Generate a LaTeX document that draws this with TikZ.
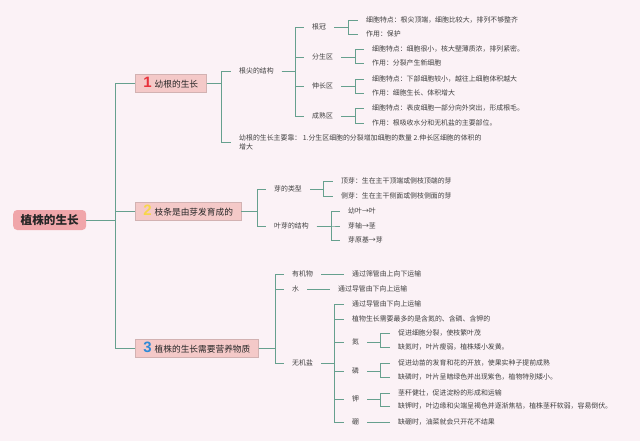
\documentclass[tikz,border=0pt]{standalone}
\usepackage{fontspec}
\setmainfont{Noto Sans CJK SC}
\newfontfamily\numfont{Liberation Sans}
\definecolor{bg}{HTML}{FBF2F6}
\definecolor{ln}{HTML}{66A08E}
\definecolor{rootfill}{HTML}{F0A6AA}
\definecolor{boxfill}{HTML}{F4C9C8}
\definecolor{boxdraw}{HTML}{D2B2B2}
\definecolor{txt}{HTML}{404040}
\definecolor{numred}{HTML}{E8323C}
\definecolor{numyel}{HTML}{F7D64A}
\definecolor{numblue}{HTML}{2E8AD6}
\newcommand\bnum[2]{{\numfont\bfseries\fontsize{15}{15}\selectfont\color{#1}#2}\hspace{3pt}}
\newcommand\lk[3]{\draw[conn] (#1.east) -- (#1.east -| #2,0) |- (#3.west);}
\newcommand\straightlk[2]{\draw[conn] (#1.east) -- (#2.west);}
\tikzset{
 conn/.style={draw=ln, line width=0.95pt},
 leaf/.style={anchor=west, inner xsep=8pt, inner ysep=1pt, font=\fontsize{6.9}{9}\selectfont, text=txt, align=left},
 branch/.style={anchor=west, draw=boxdraw, fill=boxfill, line width=0.7pt, inner xsep=8pt, minimum height=18pt, font=\fontsize{8.7}{10}\selectfont, text=black!85},
 rootbox/.style={anchor=west, fill=rootfill, rounded corners=4pt, minimum height=20pt, inner xsep=7.5pt, font=\fontsize{11.6}{13}\selectfont\bfseries, text=black!85},
}
\begin{document}
\begin{tikzpicture}[x=1pt,y=-1pt]
\fill[bg] (0,0) rectangle (640,441);
\useasboundingbox (0,0) rectangle (640,441);
% root and branches
\node[rootbox] (root) at (13,220) {植株的生长};
\node[branch] (b1) at (135,83) {\bnum{numred}{1}幼根的生长};
\node[branch] (b2) at (135,211) {\bnum{numyel}{2}枝条是由芽发育成的};
\node[branch] (b3) at (135,348) {\bnum{numblue}{3}植株的生长需要营养物质};
\lk{root}{115}{b1}
\lk{root}{115}{b2}
\lk{root}{115}{b3}
% branch 1
\node[leaf] (rt) at (231,71) {根尖的结构};
\node[leaf] (zy) at (231,142) {幼根的生长主要靠： 1.分生区细胞的分裂增加细胞的数量 2.伸长区细胞的体积的\\增大};
\lk{b1}{221}{rt}
\lk{b1}{221}{zy}
\node[leaf] (gg) at (304,27) {根冠};
\node[leaf] (fs) at (304,57) {分生区};
\node[leaf] (sc) at (304,86) {伸长区};
\node[leaf] (cs) at (304,116) {成熟区};
\lk{rt}{295}{gg}
\lk{rt}{295}{fs}
\lk{rt}{295}{sc}
\lk{rt}{295}{cs}
\node[leaf] (gg1) at (358,20) {细胞特点：根尖顶端，细胞比较大，排列不够整齐};
\node[leaf] (gg2) at (358,34) {作用：保护};
\lk{gg}{348}{gg1}
\lk{gg}{348}{gg2}
\node[leaf] (fs1) at (364,49) {细胞特点：细胞很小，核大壁薄质浓，排列紧密。};
\node[leaf] (fs2) at (364,63) {作用：分裂产生新细胞};
\lk{fs}{355}{fs1}
\lk{fs}{355}{fs2}
\node[leaf] (sc1) at (364,79) {细胞特点：下部细胞较小，越往上细胞体积越大};
\node[leaf] (sc2) at (364,93) {作用：细胞生长、体积增大};
\lk{sc}{355}{sc1}
\lk{sc}{355}{sc2}
\node[leaf] (cs1) at (364,108) {细胞特点：表皮细胞一部分向外突出，形成根毛。};
\node[leaf] (cs2) at (364,123) {作用：根吸收水分和无机盐的主要部位。};
\lk{cs}{355}{cs1}
\lk{cs}{355}{cs2}
% branch 2
\node[leaf] (ylx) at (266,189) {芽的类型};
\node[leaf] (yjg) at (266,226) {叶芽的结构};
\lk{b2}{257}{ylx}
\lk{b2}{257}{yjg}
\node[leaf] (dy) at (333,181) {顶芽：生在主干顶端或侧枝顶端的芽};
\node[leaf] (cy) at (333,196) {侧芽：生在主干侧面或侧枝侧面的芽};
\lk{ylx}{323}{dy}
\lk{ylx}{323}{cy}
\node[leaf] (yy) at (340,211) {幼叶→叶};
\node[leaf] (yz) at (340,226) {芽轴→茎};
\node[leaf] (yyj) at (340,240) {芽原基→芽};
\lk{yjg}{331}{yy}
\lk{yjg}{331}{yz}
\lk{yjg}{331}{yyj}
% branch 3
\node[leaf] (yjw) at (284,274) {有机物};
\node[leaf] (sh) at (284,289) {水};
\node[leaf] (wjy) at (284,363) {无机盐};
\lk{b3}{275}{yjw}
\lk{b3}{275}{sh}
\lk{b3}{275}{wjy}
\node[leaf] (yjw1) at (344,274) {通过筛管由上向下运输};
\straightlk{yjw}{yjw1}
\node[leaf] (sh1) at (330,289) {通过导管由下向上运输};
\straightlk{sh}{sh1}
\node[leaf] (w1) at (344,304) {通过导管由下向上运输};
\node[leaf] (w2) at (344,319) {植物生长需要最多的是含氮的、含磷、含钾的};
\node[leaf] (dan) at (344,342) {氮};
\node[leaf] (lin) at (344,371) {磷};
\node[leaf] (jia) at (344,399) {钾};
\node[leaf] (peng) at (344,422) {硼};
\lk{wjy}{334}{w1}
\lk{wjy}{334}{w2}
\lk{wjy}{334}{dan}
\lk{wjy}{334}{lin}
\lk{wjy}{334}{jia}
\lk{wjy}{334}{peng}
\node[leaf] (dan1) at (390,333) {促进细胞分裂，使枝繁叶茂};
\node[leaf] (dan2) at (390,347) {缺氮时，叶片瘦弱，植株矮小发黄。};
\lk{dan}{380}{dan1}
\lk{dan}{380}{dan2}
\node[leaf] (lin1) at (390,363) {促进幼苗的发育和花的开放，使果实种子提前成熟};
\node[leaf] (lin2) at (390,377) {缺磷时，叶片呈暗绿色并出现紫色，植物特别矮小。};
\lk{lin}{380}{lin1}
\lk{lin}{380}{lin2}
\node[leaf] (jia1) at (390,393) {茎秆健壮，促进淀粉的形成和运输};
\node[leaf] (jia2) at (390,406) {缺钾时，叶边缘和尖端呈褐色并逐渐焦枯，植株茎秆软弱，容易倒伏。};
\lk{jia}{380}{jia1}
\lk{jia}{380}{jia2}
\node[leaf] (peng1) at (390,422) {缺硼时，油菜就会只开花不结果};
\straightlk{peng}{peng1}
\end{tikzpicture}
\end{document}
